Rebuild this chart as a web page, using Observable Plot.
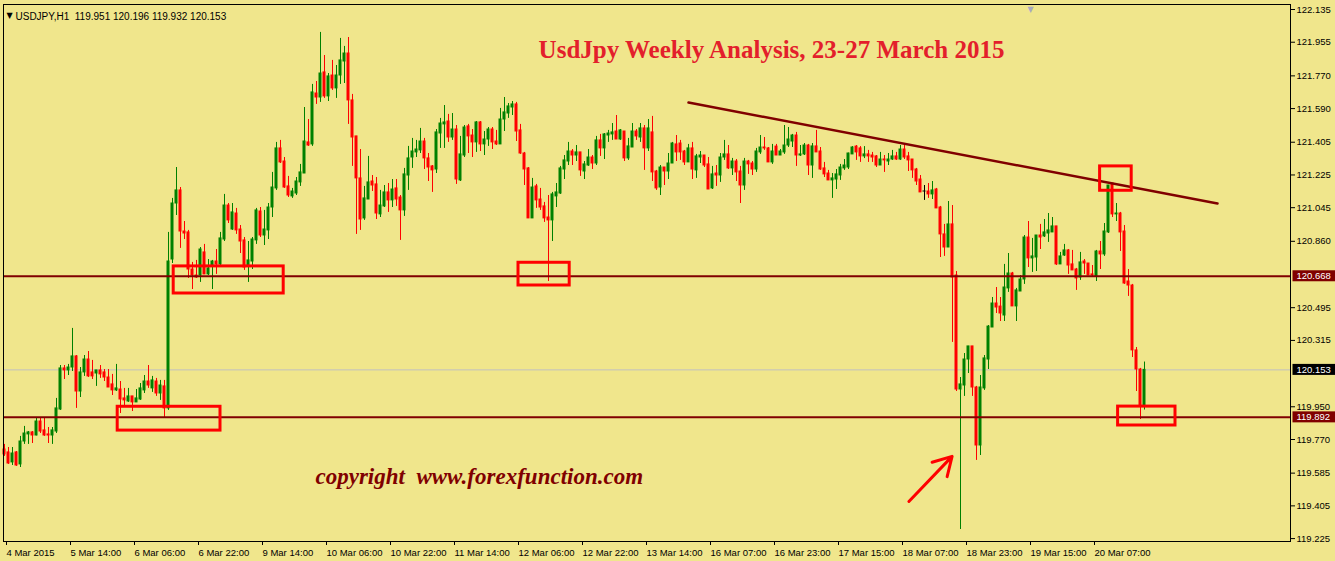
<!DOCTYPE html>
<html><head><meta charset="utf-8">
<script src="https://cdn.jsdelivr.net/npm/d3@7"></script>
<script src="https://cdn.jsdelivr.net/npm/@observablehq/plot@0.6"></script>
<style>
html,body{margin:0;padding:0;background:#f0e68c;}
#chart{width:1335px;height:561px;overflow:hidden;}
</style></head><body><div id="chart"></div>
<script>
// ---- hourly USDJPY candles (bar index 0 = 4 Mar 2015 22:00) ----
const opens = [119.715,119.699,119.644,119.699,119.633,119.759,119.798,119.809,119.792,119.869,119.820,119.798,119.792,119.814,119.935,120.161,120.150,120.166,120.227,120.034,120.139,120.210,120.139,120.133,120.150,120.139,120.111,120.073,120.040,120.045,119.996,119.979,120.007,119.974,119.990,120.040,120.089,120.051,120.089,120.023,120.062,119.941,120.760,121.068,121.140,120.914,120.909,120.705,120.672,120.672,120.799,120.678,120.727,120.749,120.733,120.870,121.057,120.925,121.013,120.925,120.865,120.727,120.749,120.865,121.024,120.892,120.920,121.046,121.151,121.371,121.299,121.162,121.107,121.123,121.184,121.233,121.404,121.393,121.673,121.651,121.789,121.657,121.772,121.701,121.772,121.849,121.893,121.635,121.437,121.206,120.986,121.090,121.189,121.173,121.008,121.052,121.129,121.085,121.151,121.101,121.030,121.222,121.321,121.349,121.360,121.409,121.316,121.272,121.255,121.453,121.503,121.519,121.431,121.475,121.195,121.332,121.492,121.442,121.404,121.514,121.393,121.420,121.475,121.409,121.393,121.530,121.563,121.596,121.613,121.470,121.343,121.261,120.986,121.162,121.090,121.052,120.991,120.975,121.107,121.123,121.255,121.299,121.354,121.332,121.349,121.244,121.277,121.321,121.288,121.415,121.371,121.442,121.448,121.464,121.420,121.464,121.316,121.376,121.464,121.431,121.481,121.371,121.459,121.244,121.156,121.266,121.244,121.288,121.393,121.398,121.354,121.294,121.371,121.250,121.321,121.332,121.283,121.151,121.233,121.222,121.321,121.338,121.261,121.299,121.244,121.167,121.299,121.288,121.255,121.349,121.376,121.371,121.294,121.381,121.332,121.349,121.387,121.409,121.442,121.332,121.338,121.387,121.277,121.382,121.354,121.261,121.233,121.195,121.200,121.222,121.261,121.266,121.338,121.381,121.371,121.327,121.338,121.332,121.327,121.277,121.310,121.299,121.310,121.327,121.310,121.365,121.327,121.310,121.255,121.200,121.134,121.134,121.118,121.145,121.046,120.898,120.826,120.953,120.672,120.045,120.067,120.210,120.282,120.056,119.737,120.051,120.210,120.386,120.518,120.501,120.452,120.601,120.683,120.502,120.584,120.650,120.881,120.766,120.771,120.892,120.887,120.903,120.909,120.942,120.733,120.782,120.810,120.733,120.705,120.661,120.749,120.738,120.678,120.666,120.804,120.788,120.909,121.178,121.008,121.013,120.914,120.639,120.617,120.260,120.155,119.951];
const highs = [119.743,119.726,119.726,119.704,119.787,119.842,119.814,119.814,119.891,119.891,119.891,119.836,119.836,119.996,120.177,120.177,120.183,120.381,120.232,120.166,120.232,120.254,120.205,120.150,120.177,120.155,120.155,120.128,120.183,120.089,120.051,120.051,120.007,120.045,120.078,120.122,120.177,120.117,120.106,120.095,120.095,120.909,121.096,121.266,121.156,120.969,120.920,120.744,120.755,120.826,120.843,120.760,120.755,120.815,120.909,121.118,121.068,121.068,121.041,120.947,120.881,120.859,120.881,121.041,121.046,121.030,121.068,121.239,121.404,121.415,121.321,121.217,121.151,121.211,121.283,121.596,121.530,121.723,121.739,122.009,121.882,121.783,121.855,121.827,121.976,121.932,121.981,121.668,121.437,121.365,121.162,121.327,121.222,121.211,121.140,121.167,121.178,121.200,121.200,121.112,121.261,121.382,121.426,121.415,121.481,121.426,121.343,121.277,121.475,121.536,121.607,121.558,121.563,121.497,121.437,121.497,121.503,121.475,121.519,121.519,121.464,121.486,121.486,121.470,121.591,121.651,121.618,121.629,121.624,121.503,121.349,121.266,121.206,121.173,121.151,121.074,121.112,121.129,121.178,121.272,121.332,121.404,121.365,121.387,121.349,121.299,121.365,121.332,121.437,121.448,121.453,121.470,121.508,121.552,121.475,121.464,121.426,121.508,121.475,121.508,121.497,121.530,121.547,121.250,121.277,121.266,121.343,121.404,121.442,121.415,121.360,121.393,121.404,121.338,121.354,121.332,121.321,121.272,121.277,121.343,121.415,121.387,121.316,121.310,121.272,121.316,121.305,121.299,121.371,121.442,121.431,121.376,121.393,121.393,121.365,121.497,121.486,121.448,121.459,121.387,121.398,121.393,121.398,121.470,121.376,121.294,121.250,121.233,121.255,121.283,121.310,121.345,121.381,121.387,121.381,121.381,121.360,121.349,121.332,121.349,121.332,121.343,121.360,121.349,121.387,121.398,121.349,121.310,121.261,121.222,121.167,121.178,121.189,121.151,121.052,120.953,121.079,121.057,120.694,120.111,120.243,120.282,120.282,120.062,120.122,120.232,120.397,120.551,120.606,120.551,120.733,120.793,120.689,120.601,120.672,120.892,120.969,120.876,120.892,120.953,120.980,121.013,120.991,120.942,120.799,120.843,120.815,120.810,120.711,120.799,120.760,120.738,120.727,120.810,120.859,120.958,121.167,121.178,121.068,121.019,120.947,120.705,120.623,120.276,120.161,120.196];
const lows = [119.677,119.633,119.627,119.622,119.616,119.743,119.743,119.748,119.790,119.803,119.787,119.748,119.743,119.803,119.930,120.100,120.122,120.144,119.941,120.001,120.117,120.111,120.100,120.062,120.106,120.089,120.056,120.012,120.034,119.913,119.957,119.974,119.924,119.974,119.985,120.023,120.051,120.029,120.007,119.985,119.886,119.930,120.738,121.002,120.821,120.870,120.656,120.595,120.656,120.634,120.678,120.672,120.595,120.678,120.716,120.859,120.958,120.920,120.898,120.793,120.700,120.634,120.705,120.843,120.881,120.837,120.870,120.991,121.140,121.288,121.151,121.101,121.096,121.112,121.162,121.233,121.382,121.382,121.613,121.624,121.646,121.629,121.690,121.646,121.723,121.728,121.503,121.272,120.898,120.920,120.975,121.090,121.134,120.980,120.991,121.046,121.019,121.046,121.052,120.865,120.997,121.140,121.261,121.321,121.343,121.255,121.189,121.129,121.233,121.371,121.371,121.404,121.415,121.173,121.189,121.321,121.343,121.321,121.349,121.354,121.332,121.382,121.365,121.387,121.393,121.464,121.536,121.552,121.409,121.338,121.167,120.986,120.986,121.041,121.030,120.964,120.639,120.859,121.046,121.118,121.200,121.277,121.277,121.299,121.217,121.200,121.272,121.255,121.277,121.327,121.310,121.404,121.415,121.420,121.415,121.299,121.305,121.376,121.415,121.404,121.250,121.354,121.189,121.140,121.112,121.167,121.200,121.288,121.299,121.305,121.277,121.294,121.200,121.206,121.288,121.266,121.145,121.145,121.162,121.184,121.305,121.255,121.222,121.189,121.068,121.140,121.228,121.222,121.239,121.338,121.360,121.294,121.283,121.332,121.332,121.338,121.376,121.376,121.272,121.327,121.332,121.222,121.206,121.349,121.250,121.211,121.195,121.096,121.145,121.195,121.250,121.255,121.338,121.305,121.294,121.315,121.294,121.294,121.266,121.277,121.239,121.277,121.305,121.305,121.305,121.310,121.244,121.206,121.167,121.129,121.085,121.096,121.090,121.041,120.771,120.777,120.826,120.304,120.034,119.275,120.007,120.133,120.007,119.655,119.682,120.040,120.155,120.386,120.463,120.419,120.419,120.579,120.502,120.419,120.584,120.623,120.716,120.689,120.694,120.815,120.881,120.854,120.909,120.727,120.733,120.777,120.678,120.700,120.590,120.645,120.678,120.672,120.666,120.639,120.705,120.777,120.903,120.991,120.969,120.804,120.623,120.557,120.221,120.034,119.880,119.932];
const closes = [119.688,119.638,119.693,119.627,119.759,119.803,119.809,119.792,119.869,119.814,119.792,119.792,119.820,119.941,120.161,120.150,120.166,120.227,120.034,120.139,120.210,120.117,120.117,120.150,120.128,120.111,120.056,120.040,120.051,119.990,119.985,120.007,119.974,119.996,120.051,120.089,120.067,120.095,120.023,120.067,119.941,120.749,121.068,121.140,120.914,120.903,120.705,120.672,120.661,120.815,120.678,120.711,120.749,120.733,120.876,121.057,120.975,121.019,120.920,120.859,120.716,120.755,120.870,121.030,120.892,120.925,121.046,121.156,121.371,121.294,121.156,121.112,121.134,121.189,121.239,121.409,121.387,121.679,121.651,121.783,121.657,121.767,121.701,121.772,121.855,121.893,121.635,121.431,121.206,120.980,121.096,121.184,121.167,121.013,121.057,121.129,121.085,121.145,121.090,121.030,121.228,121.316,121.354,121.365,121.409,121.316,121.266,121.250,121.459,121.508,121.514,121.431,121.475,121.200,121.338,121.486,121.437,121.404,121.514,121.393,121.420,121.475,121.404,121.393,121.530,121.569,121.602,121.613,121.464,121.343,121.255,120.986,121.156,121.085,121.046,120.986,120.975,121.118,121.129,121.261,121.305,121.354,121.332,121.349,121.250,121.283,121.321,121.288,121.415,121.371,121.448,121.453,121.459,121.420,121.470,121.316,121.382,121.464,121.437,121.481,121.371,121.481,121.239,121.151,121.266,121.244,121.288,121.398,121.349,121.349,121.294,121.371,121.255,121.327,121.332,121.277,121.145,121.228,121.222,121.321,121.338,121.261,121.299,121.239,121.167,121.299,121.283,121.255,121.354,121.376,121.371,121.294,121.354,121.332,121.354,121.387,121.420,121.442,121.332,121.338,121.387,121.277,121.382,121.349,121.255,121.228,121.195,121.206,121.228,121.266,121.277,121.343,121.376,121.349,121.327,121.338,121.327,121.321,121.277,121.310,121.305,121.310,121.327,121.310,121.365,121.321,121.305,121.250,121.189,121.129,121.134,121.118,121.140,121.041,120.898,120.826,120.953,120.661,120.045,120.073,120.210,120.282,120.056,119.737,120.056,120.216,120.391,120.518,120.496,120.463,120.606,120.683,120.502,120.590,120.650,120.881,120.766,120.777,120.892,120.881,120.909,120.920,120.942,120.733,120.777,120.810,120.727,120.700,120.656,120.744,120.738,120.672,120.672,120.804,120.788,120.914,121.167,121.008,121.013,120.909,120.628,120.617,120.260,120.155,119.957,120.153];

// ---- axes ----
const tickBars = [0,16,32,48,64,80,96,112,128,144,160,176,192,208,224,240,256,272];
const tickLabels = ["4 Mar 2015","5 Mar 14:00","6 Mar 06:00","6 Mar 22:00","9 Mar 14:00","10 Mar 06:00","10 Mar 22:00","11 Mar 14:00","12 Mar 06:00","12 Mar 22:00","13 Mar 14:00","16 Mar 07:00","16 Mar 23:00","17 Mar 15:00","18 Mar 07:00","18 Mar 23:00","19 Mar 15:00","20 Mar 07:00"];
const priceTicks = [122.135,121.955,121.770,121.590,121.405,121.225,121.045,120.860,120.495,120.315,119.950,119.770,119.585,119.405,119.225];

// ---- annotations ----
const levelPrices = [120.668, 119.892];
const bidPrice = 120.153;
const trendBars = [171, 303.25];
const trendPrices = [121.6235, 121.068];
const boxBar1 = [28.3, 42.3, 128.5, 273.9, 278.4];
const boxBar2 = [54.0, 69.8, 141.3, 281.8, 292.75];
const boxTop = [119.950, 120.722, 120.742, 121.272, 119.951];
const boxBottom = [119.819, 120.573, 120.617, 121.138, 119.847];
const arrowBars = [226.1, 236.9];
const arrowPrices = [119.429, 119.677];
const headerText = "USDJPY,H1  119.951 120.196 119.932 120.153";
const titleText = "UsdJpy Weekly Analysis, 23-27 March 2015";
const copyrightText = "copyright\u00a0\u00a0www.forexfunction.com";

const candles = opens.map((o, i) => ({i, open: o, high: highs[i], low: lows[i], close: closes[i]}));
const colorOf = d => d.close > d.open ? "#008000" : d.close < d.open ? "#ff0000" : "#000000";
const trend = trendBars.map((b, k) => ({bar: b, price: trendPrices[k]}));
const boxes = boxBar1.map((b, k) => ({x1: b, x2: boxBar2[k], y1: boxTop[k], y2: boxBottom[k]}));
const labelOf = new Map(tickBars.map((b, k) => [b, tickLabels[k]]));

const chart = Plot.plot({
  width: 1335, height: 561,
  marginLeft: 3, marginRight: 45, marginTop: 4, marginBottom: 20,
  x: {domain: [-0.25, 321.5], axis: null},
  y: {domain: [119.209, 122.1625], axis: null},
  style: {background: "#f0e68c", color: "#000", fontFamily: "'Liberation Sans', Arial, sans-serif", fontSize: "9.5px", overflow: "visible"},
  marks: [
    Plot.ruleY([bidPrice], {stroke: "#c0c0c0", strokeWidth: 1}),
    Plot.ruleX(candles, {x: "i", y1: "low", y2: "high", stroke: colorOf, strokeWidth: 1}),
    Plot.rect(candles, {x1: d => d.i - 0.375, x2: d => d.i + 0.375, y1: "open", y2: "close", fill: colorOf, insetTop: -0.5, insetBottom: -0.5}),
    Plot.ruleY(levelPrices, {stroke: "#800000", strokeWidth: 2}),
    Plot.line(trend, {x: "bar", y: "price", stroke: "#800000", strokeWidth: 2.5}),
    Plot.rect(boxes, {x1: "x1", x2: "x2", y1: "y1", y2: "y2", fill: "none", stroke: "#ff0000", strokeWidth: 3}),
    Plot.arrow([0], {x1: () => arrowBars[0], y1: () => arrowPrices[0], x2: () => arrowBars[1], y2: () => arrowPrices[1], stroke: "#ff0000", strokeWidth: 3, headLength: 14}),
    Plot.frame({stroke: "#000"}),
    Plot.axisY({anchor: "right", ticks: priceTicks, tickFormat: d => d.toFixed(3), tickSize: 4, tickPadding: 2}),
    Plot.axisX({anchor: "bottom", ticks: tickBars, tickFormat: d => labelOf.get(d), tickSize: 4, tickPadding: 4, textAnchor: "start", dx: 2}),
    Plot.text([levelPrices[0], levelPrices[1]], {y: d => d, text: d => d.toFixed(3), frameAnchor: "right", dx: 6, textAnchor: "start", fill: "#fff", className: "hl-maroon"}),
    Plot.text([bidPrice], {y: d => d, text: d => d.toFixed(3), frameAnchor: "right", dx: 6, textAnchor: "start", fill: "#fff", className: "hl-black"}),
    Plot.text(["\u25BC"], {frameAnchor: "top-left", dx: 3, dy: 8, textAnchor: "start", fontSize: 8, fontFamily: "DejaVu Sans", fill: "#000"}),
    Plot.text([headerText], {frameAnchor: "top-left", dx: 12, dy: 8, textAnchor: "start", fontSize: 10, fill: "#000"}),
    Plot.text(["\u25BC"], {frameAnchor: "top-left", dx: 1024, dy: 2, textAnchor: "start", fontSize: 8, fontFamily: "DejaVu Sans", fill: "#a8a8c0"}),
    Plot.text([titleText], {frameAnchor: "top-left", dx: 768, dy: 36, textAnchor: "middle", fontSize: 25, fontWeight: "bold", fontFamily: "'Liberation Serif', 'Times New Roman', serif", fill: "#e3202b"}),
    Plot.text([copyrightText], {frameAnchor: "top-left", dx: 312, dy: 463, textAnchor: "start", fontSize: 23, fontWeight: "bold", fontStyle: "italic", fontFamily: "'Liberation Serif', 'Times New Roman', serif", fill: "#800000"})
  ]
});
document.getElementById("chart").append(chart);

for (const [cls, bg] of [["hl-maroon", "#800000"], ["hl-black", "#000000"]]) {
  d3.select(chart).selectAll(`g.${cls} text`).each(function() {
    const b = this.getBBox();
    const r = document.createElementNS("http://www.w3.org/2000/svg", "rect");
    r.setAttribute("x", b.x - 4);
    r.setAttribute("y", b.y);
    r.setAttribute("width", b.width + 9);
    r.setAttribute("height", b.height);
    r.setAttribute("fill", bg);
    const t = this.getAttribute("transform");
    if (t) r.setAttribute("transform", t);
    this.parentNode.insertBefore(r, this);
  });
}
</script>
</body></html>
